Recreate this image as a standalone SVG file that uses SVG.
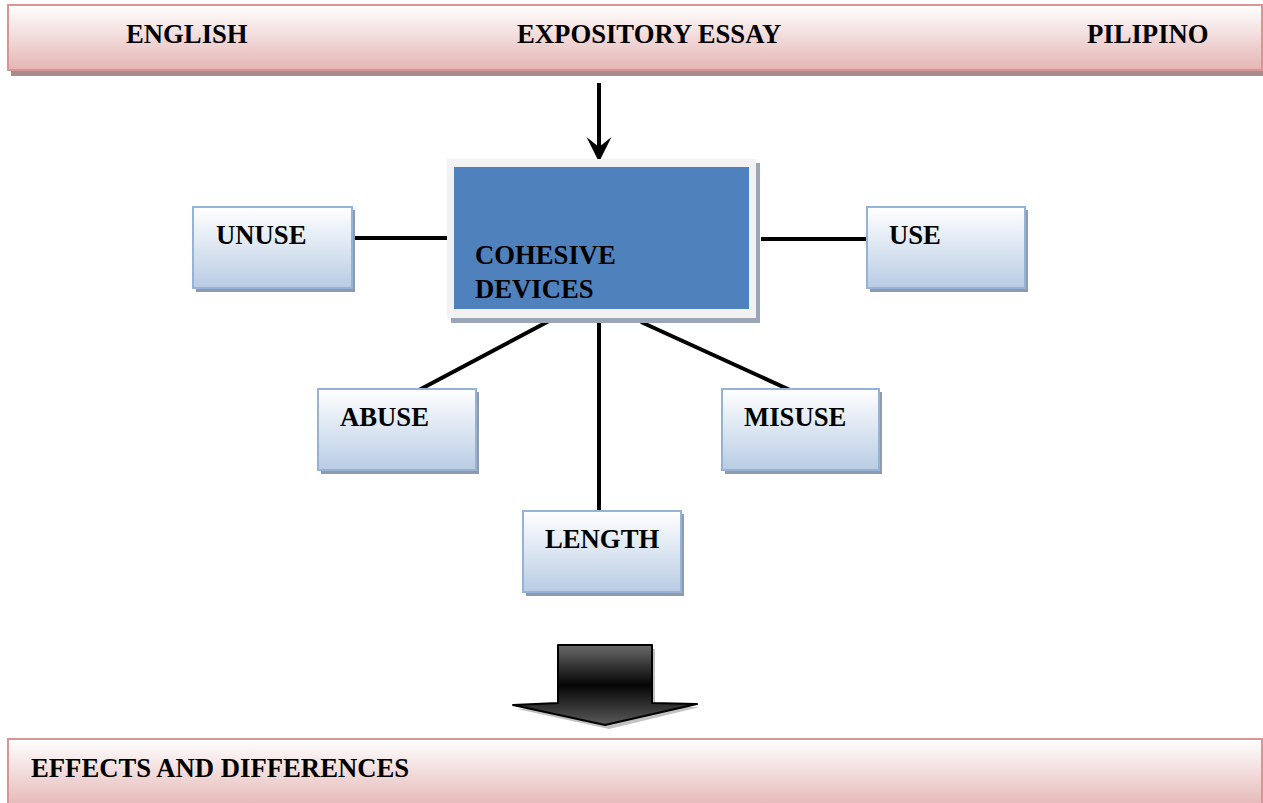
<svg xmlns="http://www.w3.org/2000/svg" width="1263" height="803" viewBox="0 0 1263 803">
<defs>
<linearGradient id="pink" x1="0" y1="0" x2="0" y2="1">
<stop offset="0" stop-color="#ffffff"/>
<stop offset="1" stop-color="#e4b5b4"/>
</linearGradient>
<linearGradient id="blueg" x1="0" y1="0" x2="0" y2="1">
<stop offset="0" stop-color="#ffffff"/>
<stop offset="1" stop-color="#b9cce4"/>
</linearGradient>
<linearGradient id="dark" x1="0" y1="0" x2="0" y2="1">
<stop offset="0" stop-color="#6a6a6a"/>
<stop offset="0.5" stop-color="#050505"/>
<stop offset="1" stop-color="#5a5a5a"/>
</linearGradient>
<style>
.t{font-family:"Liberation Serif","Times New Roman",serif;font-weight:bold;font-size:26.7px;fill:#000}
.ban{fill:url(#pink);stroke:#d99594;stroke-width:2}
.bsh{fill:#a88c8c}
.box{fill:url(#blueg);stroke:#95b3d7;stroke-width:2}
.sh{fill:#8f9bab}
.ln{stroke:#000;stroke-width:4;fill:none}
</style>
</defs>
<g id="header">
<rect class="bsh" x="11" y="9" width="1254" height="67"/>
<rect class="ban" x="8" y="5" width="1254" height="65"/>
<text class="t" x="126" y="43">ENGLISH</text>
<text class="t" x="517" y="43">EXPOSITORY ESSAY</text>
<text class="t" x="1087" y="43">PILIPINO</text>
</g>
<g id="connectors">
<line class="ln" x1="599" y1="83" x2="599" y2="150" stroke-width="5"/>
<path d="M586.5,137 L599,162 L611.5,137 L599,147 Z" fill="#000"/>
<line class="ln" x1="352" y1="238" x2="454" y2="238"/>
<line class="ln" x1="761" y1="239" x2="867" y2="239"/>
<line class="ln" x1="549" y1="321" x2="419" y2="390"/>
<line class="ln" x1="599" y1="322" x2="599" y2="511"/>
<line class="ln" x1="641" y1="322" x2="790" y2="390"/>
</g>
<g id="cohesive">
<rect x="451" y="163" width="309" height="160" fill="#9aa6b6"/>
<rect x="447" y="159" width="309" height="159" fill="#f2f2f2"/>
<rect x="454" y="167" width="295" height="142" fill="#4f81bd"/>
<text class="t" x="475" y="264">COHESIVE</text>
<text class="t" x="475" y="298">DEVICES</text>
</g>
<g id="unuse">
<rect class="sh" x="196" y="210" width="159" height="82"/>
<rect class="box" x="193" y="207" width="159" height="81"/>
<text class="t" x="216" y="244">UNUSE</text>
</g>
<g id="use">
<rect class="sh" x="870" y="210" width="158" height="82"/>
<rect class="box" x="867" y="207" width="158" height="81"/>
<text class="t" x="889" y="244">USE</text>
</g>
<g id="abuse">
<rect class="sh" x="321" y="392" width="158" height="82"/>
<rect class="box" x="318" y="389" width="158" height="81"/>
<text class="t" x="340" y="426">ABUSE</text>
</g>
<g id="misuse">
<rect class="sh" x="725" y="392" width="157" height="82"/>
<rect class="box" x="722" y="389" width="157" height="81"/>
<text class="t" x="744" y="426">MISUSE</text>
</g>
<g id="length">
<rect class="sh" x="526" y="514" width="158" height="82"/>
<rect class="box" x="523" y="511" width="158" height="81"/>
<text class="t" x="545" y="548">LENGTH</text>
</g>
<g id="blockarrow">
<path d="M562,649 L655,649 L655,707 L700,707 L609,729 L517,709 L562,707 Z" fill="#9a9a9a" opacity="0.6"/>
<path d="M558,645 L652,645 L652,703 L697,704 L605,725 L513,705 L558,703 Z" fill="url(#dark)" stroke="#000" stroke-width="2" stroke-linejoin="round"/>
</g>
<g id="footer">
<rect class="bsh" x="11" y="743" width="1254" height="66"/>
<rect class="ban" x="8" y="739" width="1254" height="70"/>
<text class="t" x="31" y="777">EFFECTS AND DIFFERENCES</text>
</g>
</svg>
